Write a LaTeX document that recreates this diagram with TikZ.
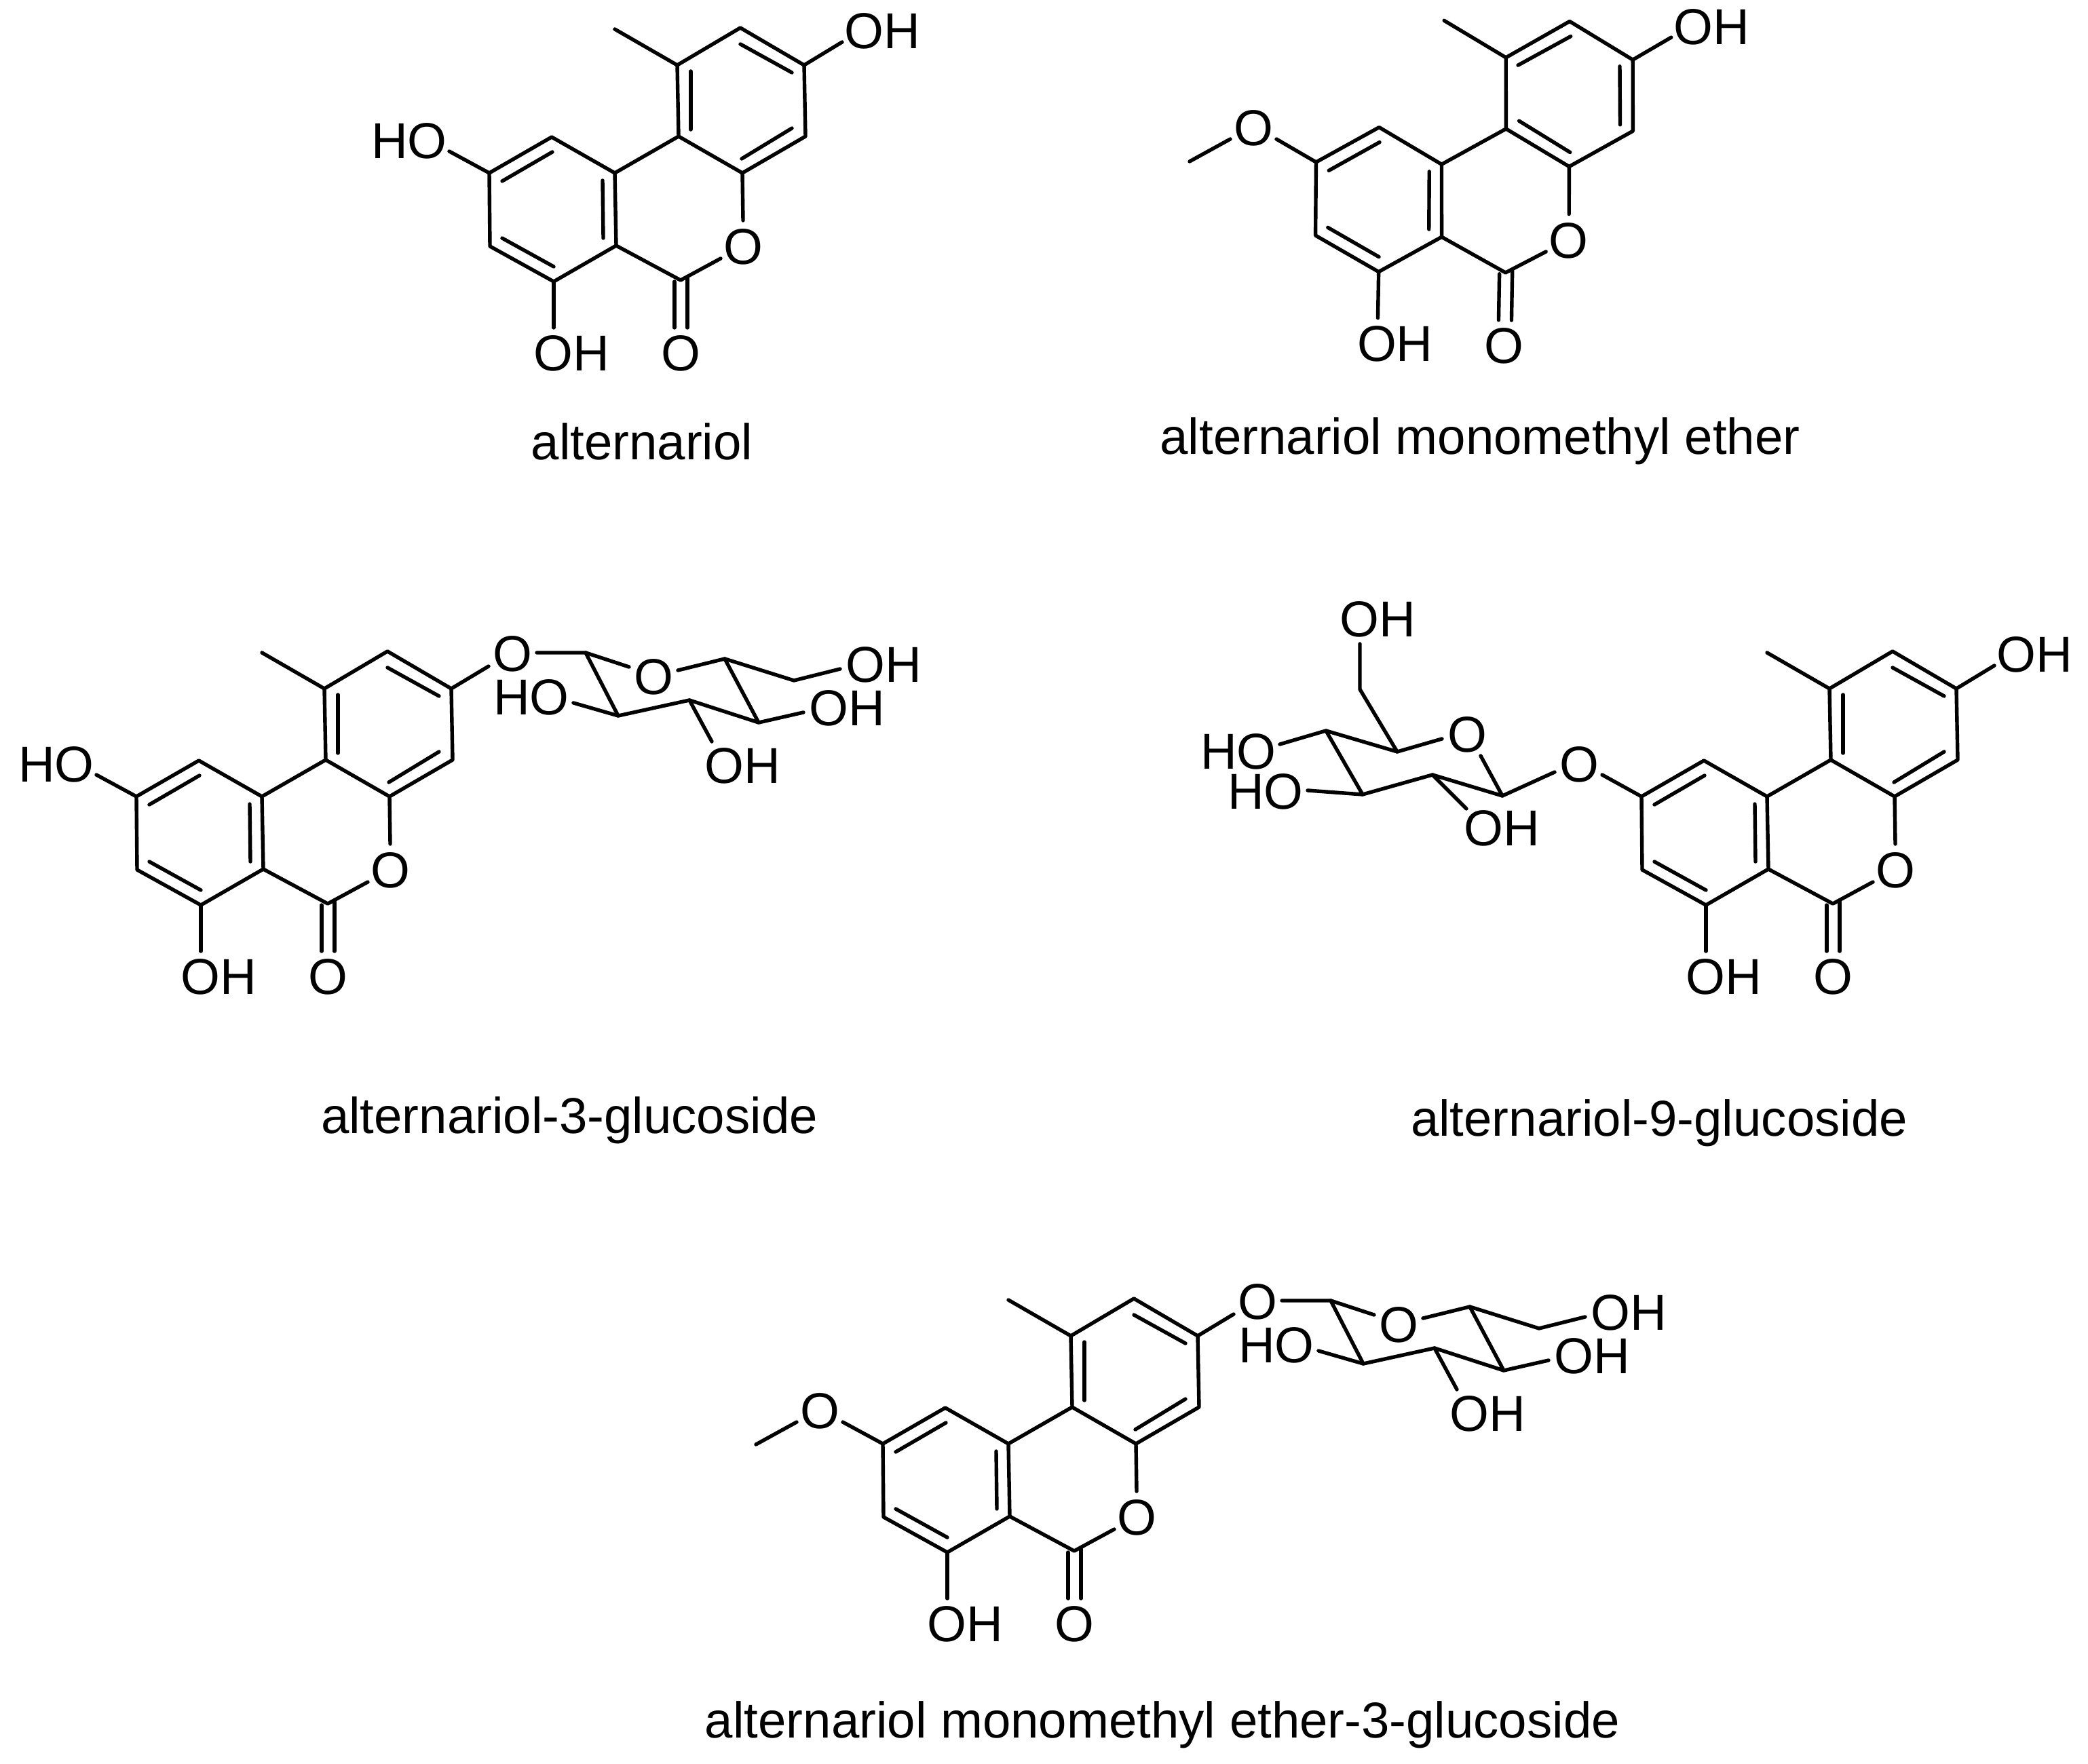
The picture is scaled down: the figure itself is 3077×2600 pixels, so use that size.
\documentclass[tikz,border=0pt]{standalone}
\usepackage{fontspec}
\setmainfont{Liberation Sans}
\tikzset{
  bond/.style={line width=1.35pt,line cap=round,line join=round,black},
  atom/.style={inner sep=0pt,outer sep=0pt,font=\fontsize{18.6pt}{20pt}\selectfont,text=black},
  caption/.style={inner sep=0pt,outer sep=0pt,anchor=base,font=\fontsize{18.6pt}{20pt}\selectfont,text=black},
  mola/.style={},
  molm/.style={shift={(1218,-12)},rotate around={-1:(950,280)}},
  molg/.style={shift={(-520,919)}},
  moln/.style={shift={(1698,919)}},
  molq/.style={shift={(580,1873)}},
}
% aglycone core: #1 prefix, #2 scope style
\newcommand{\aglycone}[2]{
\begin{scope}[#2]
  \coordinate (#1t) at (1091,41);
  \coordinate (#1me) at (998,96);
  \coordinate (#1r) at (1185,96);
  \coordinate (#1c3) at (1187,201);
  \coordinate (#1c4a) at (1094,255);
  \coordinate (#1j) at (1000,201);
  \coordinate (#1k) at (906,255);
  \coordinate (#1d) at (813,202);
  \coordinate (#1l) at (721,255);
  \coordinate (#1e) at (722,363);
  \coordinate (#1b) at (816,415);
  \coordinate (#1f) at (908,362);
  \coordinate (#1co) at (1003,413);
  \coordinate (#1mee) at (906,43);
  \coordinate (#1oe1) at (1095,325);
  \coordinate (#1oe2) at (1062,381);
  \coordinate (#1ohe) at (816,483);
  \coordinate (#1i4a) at (814,224); \coordinate (#1i4b) at (740,267);
  \coordinate (#1i5a) at (888,266); \coordinate (#1i5b) at (889,351);
  \coordinate (#1i6a) at (740,351); \coordinate (#1i6b) at (816,393);
  \coordinate (#1dla) at (994,415); \coordinate (#1dlb) at (994,483);
  \coordinate (#1dra) at (1013,410); \coordinate (#1drb) at (1013,483);
  \node[atom] (#1ringO) at (1095,364) {O};
  \node[atom] (#1carbO) at (1003,521) {O};
  \node[atom] (#1bOH) at (842,521) {OH};
  \draw[bond] (#1me) -- (#1t) -- (#1r) -- (#1c3) -- (#1c4a) -- (#1j) -- (#1me);
  \draw[bond] (#1j) -- (#1k) -- (#1d) -- (#1l) -- (#1e) -- (#1b) -- (#1f) -- (#1k);
  \draw[bond] (#1f) -- (#1co) -- (#1oe2);
  \draw[bond] (#1c4a) -- (#1oe1);
  \draw[bond] (#1me) -- (#1mee);
  \draw[bond] (#1b) -- (#1ohe);
  \draw[bond] (#1dla) -- (#1dlb);
  \draw[bond] (#1dra) -- (#1drb);
  \draw[bond] (#1i4a) -- (#1i4b);
  \draw[bond] (#1i5a) -- (#1i5b);
  \draw[bond] (#1i6a) -- (#1i6b);
\end{scope}}
% inner double bonds of the right ring, the usual way round
\newcommand{\kekuleA}[2]{
\begin{scope}[#2]
  \coordinate (#1i1a) at (1091,65); \coordinate (#1i1b) at (1167,107);
  \coordinate (#1i2a) at (1018,105); \coordinate (#1i2b) at (1018,191);
  \coordinate (#1i3a) at (1093,234); \coordinate (#1i3b) at (1167,189);
  \draw[bond] (#1i1a) -- (#1i1b);
  \draw[bond] (#1i2a) -- (#1i2b);
  \draw[bond] (#1i3a) -- (#1i3b);
\end{scope}}
% inner double bonds of the right ring, the other way round
\newcommand{\kekuleB}[2]{
\begin{scope}[#2]
  \coordinate (#1i1a) at (1016,107); \coordinate (#1i1b) at (1093,63);
  \coordinate (#1i2a) at (1166,106); \coordinate (#1i2b) at (1168,192);
  \coordinate (#1i3a) at (1019,189); \coordinate (#1i3b) at (1095,234);
  \draw[bond] (#1i1a) -- (#1i1b);
  \draw[bond] (#1i2a) -- (#1i2b);
  \draw[bond] (#1i3a) -- (#1i3b);
\end{scope}}
\newcommand{\rightOH}[2]{
\begin{scope}[#2]
  \coordinate (#1rohe) at (1241,62);
  \node[atom] (#1rOH) at (1300,46) {OH};
  \draw[bond] (#1r) -- (#1rohe);
\end{scope}}
\newcommand{\leftHO}[2]{
\begin{scope}[#2]
  \coordinate (#1lohe) at (662,223);
  \node[atom] (#1lHO) at (603,208) {HO};
  \draw[bond] (#1l) -- (#1lohe);
\end{scope}}
% methoxy, coordinates as in the top right molecule
\newcommand{\leftOMe}[3]{
\begin{scope}[shift={(#2,#3)}]
  \coordinate (#1lmo) at (1881,205);
  \coordinate (#1lma) at (1813,205);
  \coordinate (#1lmb) at (1753,238);
  \node[atom] (#1lO) at (1847,189) {O};
  \draw[bond] (#1l) -- (#1lmo);
  \draw[bond] (#1lma) -- (#1lmb);
\end{scope}}
% right glucoside, coordinates as in the middle left molecule
\newcommand{\glucR}[3]{
\begin{scope}[shift={(#2,#3)}]
  \coordinate (#1ga) at (720,982);
  \coordinate (#1gb) at (791,962);
  \coordinate (#1c1) at (863,962);
  \coordinate (#1c1e) at (927,983);
  \coordinate (#1c2) at (911,1055);
  \coordinate (#1c2e) at (845,1036);
  \coordinate (#1g3) at (1016,1032);
  \coordinate (#1c3e) at (1049,1093);
  \coordinate (#1g4) at (1118,1065);
  \coordinate (#1c4e) at (1184,1050);
  \coordinate (#1g5) at (1068,971);
  \coordinate (#1c5e) at (999,988);
  \coordinate (#1g6) at (1170,1003);
  \coordinate (#1c6e) at (1238,986);
  \node[atom] (#1gO) at (755,964) {O};
  \node[atom] (#1grO) at (963,998) {O};
  \node[atom] (#1g2HO) at (783,1028) {HO};
  \node[atom] (#1g3OH) at (1094,1129) {OH};
  \node[atom] (#1g4OH) at (1248,1044) {OH};
  \node[atom] (#1g6OH) at (1302,980) {OH};
  \draw[bond] (#1gb) -- (#1c1) -- (#1c1e);
  \draw[bond] (#1c1) -- (#1c2) -- (#1g3) -- (#1g4) -- (#1g5) -- (#1c5e);
  \draw[bond] (#1c2) -- (#1c2e);
  \draw[bond] (#1g3) -- (#1c3e);
  \draw[bond] (#1g4) -- (#1c4e);
  \draw[bond] (#1g5) -- (#1g6) -- (#1c6e);
\end{scope}
\draw[bond] (#1r) -- (#1ga);}
\begin{document}
\begin{tikzpicture}[x=0.25pt,y=-0.25pt]
\useasboundingbox (0,0) rectangle (3077,2600);
\fill[white] (0,0) rectangle (3077,2600);
% alternariol
\aglycone{a}{mola}
\kekuleA{a}{mola}
\rightOH{a}{mola}
\leftHO{a}{mola}
\node[caption] (capa) at (946,678) {alternariol};
% alternariol monomethyl ether
\aglycone{m}{molm}
\kekuleB{m}{molm}
\rightOH{m}{molm}
\leftOMe{m}{0}{0}
\node[caption] (capm) at (2181,670) {alternariol monomethyl ether};
% alternariol-3-glucoside
\aglycone{g}{molg}
\kekuleA{g}{molg}
\leftHO{g}{molg}
\glucR{g}{0}{0}
\node[caption] (capg) at (839,1670) {alternariol-3-glucoside};
% alternariol-9-glucoside
\aglycone{n}{moln}
\kekuleA{n}{moln}
\rightOH{n}{moln}
\coordinate (nga) at (2361,1142);
\coordinate (ngb) at (2291,1138);
\coordinate (nc1) at (2214,1173);
\coordinate (nc1e) at (2182,1114);
\coordinate (nc2) at (2111,1142);
\coordinate (nc2e) at (2161,1192);
\coordinate (nc3) at (2008,1171);
\coordinate (nc3e) at (1927,1165);
\coordinate (nc4) at (1954,1077);
\coordinate (nc4e) at (1886,1097);
\coordinate (nc5) at (2059,1108);
\coordinate (nc5e) at (2125,1089);
\coordinate (nc6) at (2004,1016);
\coordinate (nc6e) at (2004,949);
\node[atom] (ngO) at (2327,1127) {O};
\node[atom] (nrO) at (2162,1083) {O};
\node[atom] (n2OH) at (2213,1221) {OH};
\node[atom] (n3HO) at (1865,1167) {HO};
\node[atom] (n4HO) at (1825,1108) {HO};
\node[atom] (n6OH) at (2030,913) {OH};
\draw[bond] (nl) -- (nga);
\draw[bond] (ngb) -- (nc1) -- (nc1e);
\draw[bond] (nc1) -- (nc2) -- (nc3) -- (nc4) -- (nc5) -- (nc5e);
\draw[bond] (nc2) -- (nc2e);
\draw[bond] (nc3) -- (nc3e);
\draw[bond] (nc4) -- (nc4e);
\draw[bond] (nc5) -- (nc6) -- (nc6e);
\node[caption] (capn) at (2445,1674) {alternariol-9-glucoside};
% alternariol monomethyl ether-3-glucoside
\aglycone{q}{molq}
\kekuleA{q}{molq}
\leftOMe{q}{-639}{1891}
\glucR{q}{1098}{955}
\node[caption] (capq) at (1713,2561) {alternariol monomethyl ether-3-glucoside};
\end{tikzpicture}
\end{document}
